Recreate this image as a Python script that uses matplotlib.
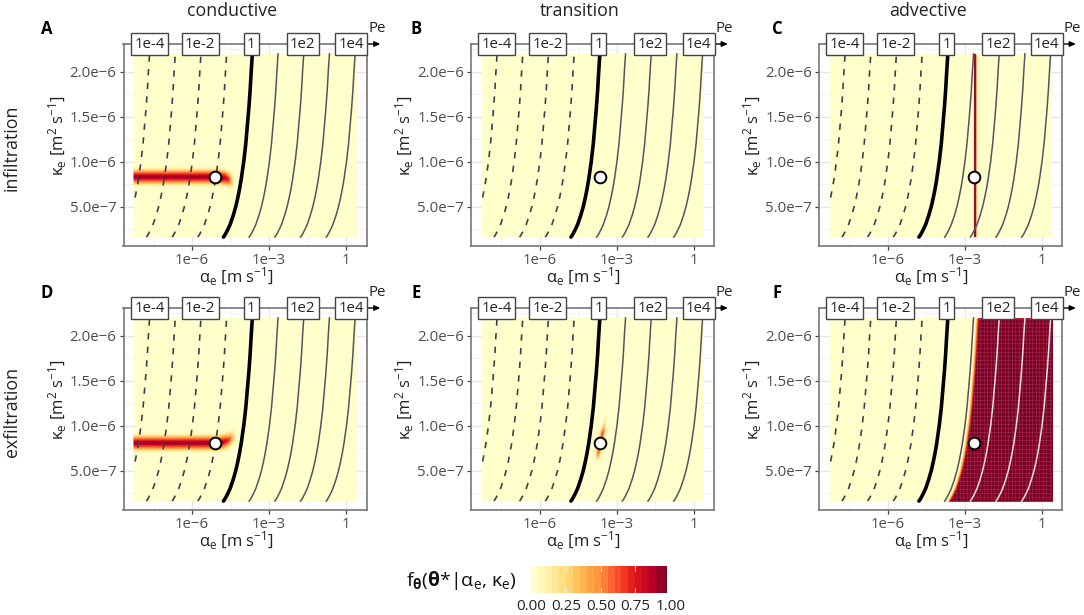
import numpy as np
import matplotlib
matplotlib.use("Agg")
import matplotlib.pyplot as plt
from matplotlib.colors import ListedColormap
from matplotlib.ticker import FixedLocator, FixedFormatter, NullFormatter

# ---- data ----
column_titles = ["conductive", "transition", "advective"]
row_titles = ["infiltration", "exfiltration"]
panel_letters = ["A", "B", "C", "D", "E", "F"]

iso_kappa = [1.6, 1.8, 2.0, 2.5, 3.0, 3.5, 4.0, 5.0, 6.0, 7.0, 8.0, 10.0, 12.0, 14.0, 16.0, 18.0, 20.0, 22.0]  # 1e-7
iso_log_alpha_pe1 = [-4.78, -4.73, -4.69, -4.60, -4.52, -4.46, -4.40, -4.30, -4.22, -4.15, -4.09, -3.99, -3.91, -3.85, -3.79, -3.74, -3.70, -3.655]
pe_exponents = [-4, -3, -2, -1, 0, 1, 2, 3, 4]

pe_labels = ["1e-4", "1e-2", "1", "1e2", "1e4"]
pe_label_log_alpha = [-7.66, -5.69, -3.70, -1.69, 0.19]

marker_log_alpha = [-5.09, -3.64, -2.62, -5.09, -3.64, -2.63]
marker_kappa = [8.3, 8.3, 8.3, 8.1, 8.1, 8.1]  # 1e-7

raster_log_alpha = [-8.26, 0.417]
raster_kappa = [1.6, 22.0]

band_offsets = [-1.2, -1.0, -0.8, -0.6, -0.4, -0.2, 0.0, 0.2, 0.4, 0.6, 0.8, 1.0, 1.2]  # 1e-7
band_profile = [0.0, 0.08, 0.22, 0.42, 0.62, 0.8, 0.9, 0.8, 0.62, 0.42, 0.22, 0.08, 0.0]

a_log_alpha = [-8.26, -6.5, -5.5, -5.0, -4.75, -4.6, -4.5, -4.38]
a_center = [8.33, 8.33, 8.33, 8.33, 8.25, 8.1, 7.95, 7.85]
a_peak = [1.0, 1.0, 1.0, 1.0, 0.97, 0.85, 0.5, 0.0]

d_log_alpha = [-8.26, -6.5, -5.5, -5.0, -4.8, -4.6, -4.45, -4.3]
d_center = [8.1, 8.1, 8.1, 8.1, 8.2, 8.4, 8.65, 8.8]
d_peak = [1.0, 1.0, 1.0, 1.0, 0.96, 0.8, 0.45, 0.0]

e_kappa = [5.8, 6.2, 6.6, 7.0, 7.4, 7.8, 8.2, 8.6, 9.0, 9.4, 9.8, 10.4, 11.0, 11.6]  # 1e-7
e_center = [-3.78, -3.75, -3.73, -3.71, -3.69, -3.66, -3.63, -3.59, -3.56, -3.53, -3.50, -3.46, -3.42, -3.38]
e_offsets = [-0.2, -0.09, 0.0, 0.09, 0.2]
e_spine = [0.0, 0.12, 0.35, 0.55, 0.6, 0.55, 0.55, 0.6, 0.68, 0.6, 0.35, 0.15, 0.07, 0.0]
e_side = [0.0, 0.25, 1.0, 0.25, 0.0]

c_line_log_alpha = -2.58
f_front_offsets = [1.07, 1.11, 1.15, 1.19]
f_front_values = [0.2, 0.45, 0.7, 0.97]

legend_levels = [i / 20 for i in range(20)]
legend_ticks = [0.0, 0.25, 0.5, 0.75, 1.0]
legend_ticklabels = ["0.00", "0.25", "0.50", "0.75", "1.00"]

# ---- styling ----
W, H = 1084, 615
plt.rcParams["font.family"] = ["Open Sans", "DejaVu Sans"]
plt.rcParams["mathtext.fontset"] = "custom"
plt.rcParams["mathtext.rm"] = "Open Sans"
plt.rcParams["mathtext.it"] = "Open Sans"
plt.rcParams["mathtext.bf"] = "Open Sans:bold"
plt.rcParams["mathtext.default"] = "regular"

cmap = ListedColormap(plt.get_cmap("YlOrRd", 20)(range(20)))
BORDER = "#777777"
TICKTXT = "#4d4d4d"

fig = plt.figure(figsize=(W / 100, H / 100), dpi=100, facecolor="white")

def px_axes(l, t, r, b):
    return fig.add_axes([l / W, 1 - b / H, (r - l) / W, (b - t) / H])

def ftext(x, y, s, **kw):
    kw.setdefault("ha", "center")
    kw.setdefault("va", "center")
    fig.text(x / W, 1 - y / H, s, **kw)

lefts = [123.5, 471.0, 819.0]
tops = [44.0, 308.0]
pw, ph = 243.3, 201.8
letter_x = [47, 416, 777]

iso_k = np.array(iso_kappa) * 1e-7
iso_a = np.array(iso_log_alpha_pe1)


def draw_band(ax, log_alpha, center, peak):
    X = np.tile(10.0 ** np.array(log_alpha), (len(band_offsets), 1))
    Y = (np.array(center)[None, :] + np.array(band_offsets)[:, None]) * 1e-7
    C = np.outer(band_profile, peak)
    ax.pcolormesh(X, Y, C, cmap=cmap, vmin=0, vmax=1, shading="gouraud", zorder=2.1)


for i in range(6):
    r, c = i // 3, i % 3
    l, t = lefts[c], tops[r]
    ax = px_axes(l, t, l + pw, t + ph)
    ax.set_xscale("log")
    ax.set_xlim(10 ** -8.67, 10 ** 0.80)
    ax.set_ylim(0.63e-7, 23.1e-7)
    ax.set_facecolor("white")
    ax.set_axisbelow(True)

    ax.xaxis.set_major_locator(FixedLocator([1e-6, 1e-3, 1]))
    ax.xaxis.set_major_formatter(FixedFormatter(["1e\u22126", "1e\u22123", "1"]))
    ax.xaxis.set_minor_locator(FixedLocator([10 ** -7.5, 10 ** -4.5, 10 ** -1.5]))
    ax.xaxis.set_minor_formatter(NullFormatter())
    ax.yaxis.set_major_locator(FixedLocator([5e-7, 1e-6, 1.5e-6, 2e-6]))
    ax.yaxis.set_major_formatter(FixedFormatter(["5.0e\u22127", "1.0e\u22126", "1.5e\u22126", "2.0e\u22126"]))
    ax.yaxis.set_minor_locator(FixedLocator([2.5e-7, 7.5e-7, 1.25e-6, 1.75e-6, 2.25e-6]))
    ax.yaxis.set_minor_formatter(NullFormatter())
    ax.grid(True, which="major", color="#e6e6e6", lw=1.0)
    ax.grid(True, which="minor", color="#f0f0f0", lw=0.6)
    ax.tick_params(which="major", length=3, width=0.9, color="#444444", labelcolor=TICKTXT, labelsize=10.8, pad=2)
    ax.tick_params(which="minor", length=0)
    for s in ax.spines.values():
        s.set_color(BORDER)
        s.set_linewidth(1.2)

    # base raster
    ax.pcolormesh(10.0 ** np.array(raster_log_alpha), np.array(raster_kappa) * 1e-7,
                  np.zeros((1, 1)), cmap=cmap, vmin=0, vmax=1, shading="flat", zorder=2)

    if i == 0:
        draw_band(ax, a_log_alpha, a_center, a_peak)
    if i == 3:
        draw_band(ax, d_log_alpha, d_center, d_peak)
    if i == 2:
        ca = 10.0 ** c_line_log_alpha
        ax.plot([ca, ca], [iso_k[0], iso_k[-1]], color="#f08040", lw=2.4, zorder=2.2, solid_capstyle="butt", alpha=0.6)
        ax.plot([ca, ca], [iso_k[0], iso_k[-1]], color="#930f2b", lw=1.5, zorder=2.3, solid_capstyle="butt")
    if i == 4:
        X = np.array([[10.0 ** (m + o) for o in e_offsets] for m in e_center])
        Y = np.tile(np.array(e_kappa)[:, None] * 1e-7, (1, len(e_offsets)))
        C = np.outer(e_spine, e_side)
        ax.pcolormesh(X, Y, C, cmap=cmap, vmin=0, vmax=1, shading="gouraud", zorder=2.1)
    if i == 5:
        right = 10.0 ** raster_log_alpha[1]
        poly = None
        for o, v in zip(f_front_offsets, f_front_values):
            poly = ax.fill_betweenx(iso_k, 10.0 ** (iso_a + o), right, color=cmap(v), lw=0, zorder=2.1)
        texture_x = 10.0 ** np.arange(-3.6, 0.45, 0.135)
        texture_y = np.arange(1.6e-7, 22e-7, 0.45e-7)
        v1 = ax.vlines(texture_x, 1.6e-7, 22e-7, color="white", lw=0.8, alpha=0.1, zorder=2.2)
        h1 = ax.hlines(texture_y, 10 ** -3.6, right, color="white", lw=0.8, alpha=0.1, zorder=2.2)
        v1.set_clip_path(poly.get_paths()[0], poly.get_transform())
        h1.set_clip_path(poly.get_paths()[0], poly.get_transform())

    # Pe isolines
    for e in pe_exponents:
        la = iso_a + e
        keep = la >= raster_log_alpha[0]
        xs, ys = 10.0 ** la[keep], iso_k[keep]
        if e < 0:
            ax.plot(xs, ys, color="#3f3f4c", lw=1.2, dashes=(3.8, 4.4), zorder=3)
        elif e == 0:
            ax.plot(xs, ys, color="black", lw=2.6, zorder=3, solid_capstyle="round")
        else:
            col = "#54545f"
            if i == 5 and e >= 2:
                col = "#e2e2e2"
            ax.plot(xs, ys, color=col, lw=1.1, zorder=3)

    # marker
    ax.plot([10.0 ** marker_log_alpha[i]], [marker_kappa[i] * 1e-7], "o", ms=8.4,
            mfc="white", mec="black", mew=1.4, zorder=5)

    # Pe labels on the top border
    top_tr = ax.get_xaxis_transform()
    for la, s in zip(pe_label_log_alpha, pe_labels):
        ax.text(10.0 ** la, 1.0, s, transform=top_tr, ha="center", va="center", fontsize=10.8,
                color="#222222", zorder=6, clip_on=False,
                bbox=dict(boxstyle="square,pad=0.22", fc="white", ec="#444444", lw=1.0))

    # Pe arrow
    ax.annotate("", xy=(l + pw + 13.5, H - t), xycoords="figure pixels",
                xytext=(l + pw - 1, H - t), textcoords="figure pixels",
                arrowprops=dict(arrowstyle="-|>,head_length=0.35,head_width=0.16", color="black", lw=1.0,
                                shrinkA=0, shrinkB=0), annotation_clip=False)
    ftext(l + pw + 10, t - 15, "Pe", fontsize=10.8, color="#222222")

    # axis labels
    ftext(l + 112.5, t + ph + 31.5, r"$\alpha_e$ [m s$^{-1}$]", fontsize=12, color="#222222")
    ftext(l - 66, t + 92, r"$\kappa_e$ [m$^2$ s$^{-1}$]", fontsize=12, color="#222222", rotation=90)

    ftext(letter_x[c], t - 15, panel_letters[i], fontsize=12, fontweight="bold", color="black")

for c, s in enumerate(column_titles):
    ftext(lefts[c] + 109, 11, s, fontsize=12.8, color="#222222")
for r, s in enumerate(row_titles):
    ftext(12, tops[r] + 104, s, fontsize=12.8, color="#222222", rotation=90)

# legend
lax = px_axes(528, 566, 666.7, 593.3)
edges = np.array(legend_levels + [1.0])
lax.pcolormesh(edges, [0, 1], np.array([legend_levels]) + 0.025, cmap=cmap, vmin=0, vmax=1)
lax.set_xlim(-0.024, 0.976)
lax.set_ylim(0, 1)
lax.set_yticks([])
lax.set_xticks([])
for s in lax.spines.values():
    s.set_visible(False)
for v in legend_ticks[1:-1]:
    lax.plot([v, v], [0, 0.2], color="white", lw=0.6, alpha=0.9)
    lax.plot([v, v], [0.8, 1], color="white", lw=0.6, alpha=0.9)
for v, s in zip(legend_ticks, legend_ticklabels):
    ftext(531.3 + v * 139, 606, s, fontsize=11, color="#222222")
ftext(461, 580, r"f$_{\mathbf{\theta}}$($\mathbf{\theta}$*|$\alpha_e$, $\kappa_e$)", fontsize=14, color="#111111")

fig.savefig("out.png", dpi=100, facecolor="white")
